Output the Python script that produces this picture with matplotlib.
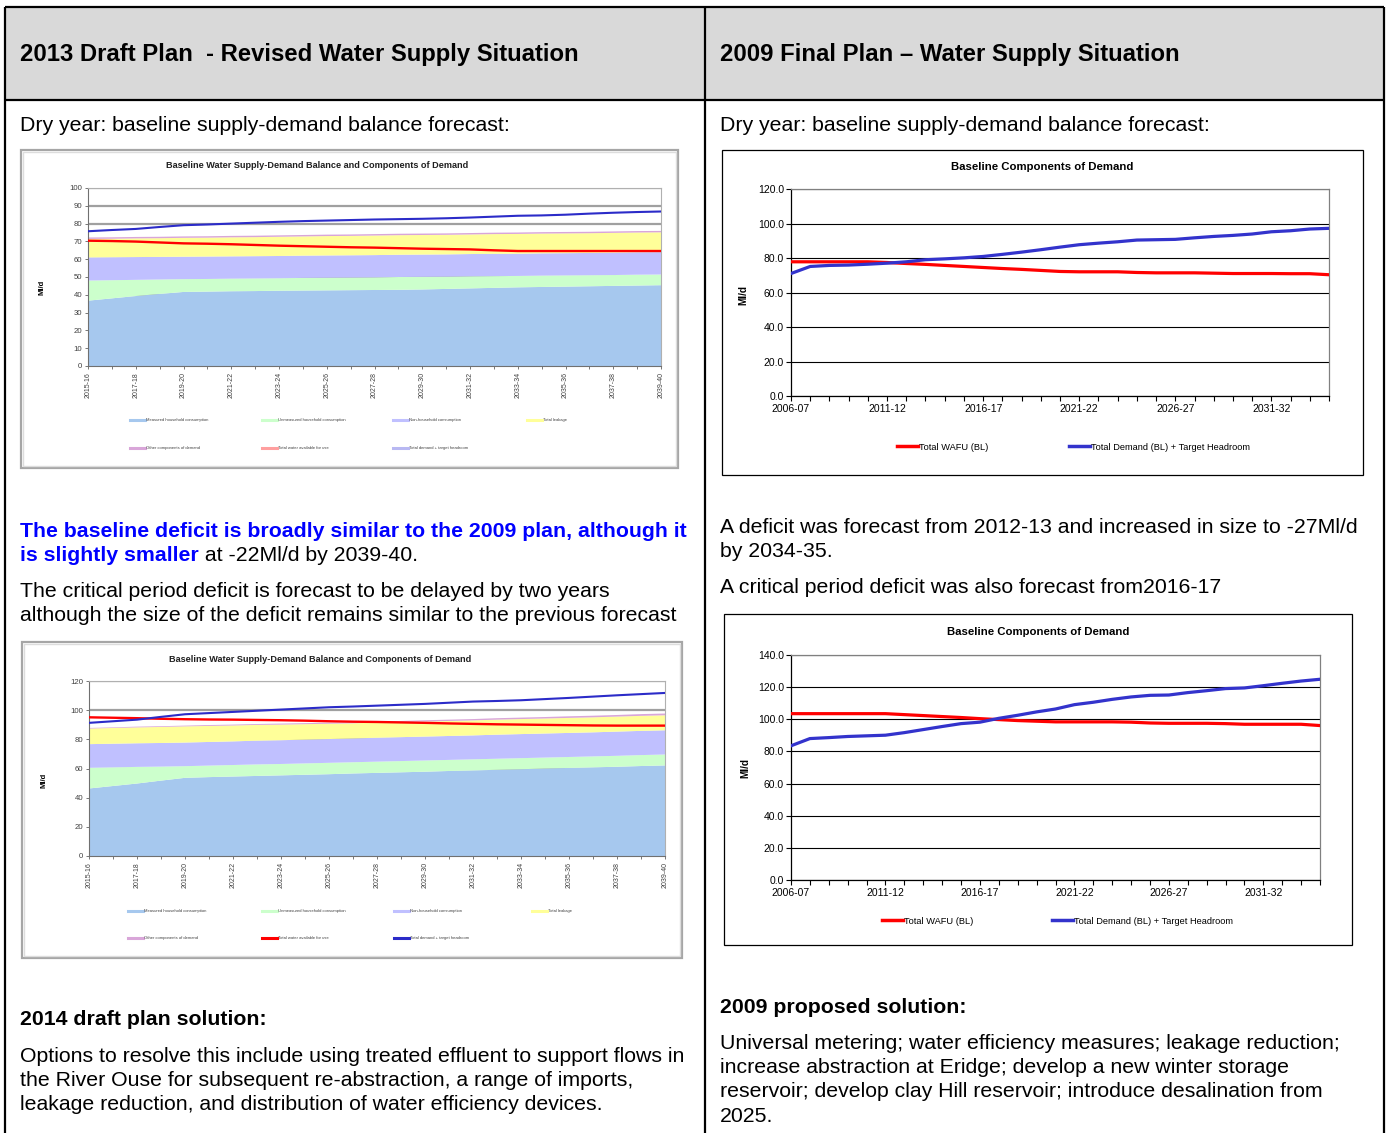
import matplotlib
matplotlib.use('Agg')
import matplotlib.pyplot as plt
from matplotlib.lines import Line2D
from matplotlib.patches import Rectangle
from matplotlib.legend import Legend
from matplotlib.ticker import MultipleLocator, FormatStrFormatter

plt.rcParams['font.family'] = ['Liberation Sans', 'DejaVu Sans']

# ---------------- DATA ----------------
years_2013 = ['2015-16', '2016-17', '2017-18', '2018-19', '2019-20', '2020-21', '2021-22', '2022-23',
              '2023-24', '2024-25', '2025-26', '2026-27', '2027-28', '2028-29', '2029-30', '2030-31',
              '2031-32', '2032-33', '2033-34', '2034-35', '2035-36', '2036-37', '2037-38', '2038-39',
              '2039-40']
years_2009 = ['2006-07', '2007-08', '2008-09', '2009-10', '2010-11', '2011-12', '2012-13', '2013-14',
              '2014-15', '2015-16', '2016-17', '2017-18', '2018-19', '2019-20', '2020-21', '2021-22',
              '2022-23', '2023-24', '2024-25', '2025-26', '2026-27', '2027-28', '2028-29', '2029-30',
              '2030-31', '2031-32', '2032-33', '2033-34', '2034-35']

component_names = ['Measured household consumption', 'Unmeasured household consumption',
                   'Non-household consumption', 'Total leakage', 'Other components of demand']
line_names_2013 = ['Total water available for use', 'Total demand + target headroom']
line_names_2009 = ['Total WAFU (BL)', 'Total Demand (BL) + Target Headroom']

# 2013 draft plan, dry year (top-left chart)
dy_measured = [36.7, 38.0, 39.3, 40.5, 41.6, 41.8, 42.0, 42.1, 42.3, 42.4, 42.5, 42.6, 42.7,
               42.8, 43.0, 43.3, 43.6, 43.9, 44.2, 44.4, 44.6, 44.8, 45.0, 45.2, 45.4]
dy_unmeasured = [11.3, 10.2, 9.1, 8.1, 7.2, 7.1, 7.1, 7.1, 7.0, 7.1, 7.1, 7.1, 7.1,
                 7.2, 7.1, 6.9, 6.8, 6.6, 6.4, 6.4, 6.3, 6.2, 6.1, 6.1, 6.0]
dy_nonhousehold = [13.0, 12.9, 12.8, 12.7, 12.6, 12.6, 12.5, 12.5, 12.5, 12.5, 12.5, 12.5, 12.5,
                   12.5, 12.5, 12.5, 12.5, 12.5, 12.5, 12.5, 12.5, 12.5, 12.6, 12.6, 12.6]
dy_leakage = [10.4, 10.4, 10.5, 10.5, 10.6, 10.6, 10.7, 10.7, 10.8, 10.8, 10.9, 10.9, 11.0,
              11.0, 11.0, 11.0, 11.0, 11.1, 11.1, 11.1, 11.1, 11.1, 11.1, 11.1, 11.1]
dy_other = [0.8] * 25
dy_wafu = [70.4, 70.2, 69.9, 69.4, 68.9, 68.7, 68.4, 68.0, 67.6, 67.3, 67.0, 66.7, 66.5,
           66.2, 65.9, 65.7, 65.5, 65.0, 64.6, 64.6, 64.6, 64.6, 64.6, 64.6, 64.6]
dy_demand = [75.7, 76.4, 77.0, 78.1, 79.1, 79.5, 80.0, 80.5, 81.0, 81.4, 81.7, 82.0, 82.3,
             82.5, 82.7, 83.0, 83.4, 83.9, 84.4, 84.6, 85.0, 85.6, 86.1, 86.5, 86.8]

# 2013 draft plan, critical period (bottom-left chart)
cp_measured = [46.3, 48.0, 49.7, 51.7, 53.6, 54.1, 54.5, 54.9, 55.3, 55.7, 56.1, 56.6, 57.0,
               57.4, 57.8, 58.3, 58.7, 59.1, 59.5, 60.0, 60.4, 60.8, 61.2, 61.7, 62.1]
cp_unmeasured = [14.2, 12.8, 11.4, 9.6, 8.0, 7.9, 7.9, 7.9, 7.8, 7.8, 7.8, 7.7, 7.7,
                 7.7, 7.7, 7.6, 7.6, 7.6, 7.6, 7.5, 7.5, 7.5, 7.5, 7.5, 7.5]
cp_nonhousehold = [16.2, 16.2, 16.2, 16.2, 16.2, 16.2, 16.2, 16.3, 16.3, 16.3, 16.3, 16.3, 16.4,
                   16.4, 16.4, 16.4, 16.4, 16.5, 16.5, 16.5, 16.5, 16.5, 16.6, 16.6, 16.6]
cp_leakage = [10.7, 10.8, 10.9, 11.0, 11.1, 11.0, 10.9, 10.8, 10.7, 10.6, 10.5, 10.4, 10.4,
              10.3, 10.3, 10.3, 10.3, 10.3, 10.3, 10.3, 10.3, 10.3, 10.3, 10.3, 10.3]
cp_other = [0.4, 0.4, 0.5, 0.5, 0.5, 0.6, 0.6, 0.6, 0.7, 0.7, 0.7, 0.8, 0.8,
            0.8, 0.9, 0.9, 0.9, 1.0, 1.0, 1.0, 1.1, 1.1, 1.1, 1.2, 1.2]
cp_wafu = [95.1, 94.8, 94.5, 94.1, 93.8, 93.6, 93.5, 93.3, 93.1, 92.8, 92.4, 92.1, 91.9,
           91.6, 91.3, 90.9, 90.6, 90.3, 90.1, 89.9, 89.7, 89.5, 89.4, 89.4, 89.4]
cp_demand = [91.3, 92.4, 93.5, 95.4, 97.2, 98.0, 98.8, 99.6, 100.4, 101.2, 102.0, 102.5, 103.1,
             103.7, 104.3, 105.1, 105.9, 106.3, 106.8, 107.6, 108.4, 109.3, 110.2, 111.0, 111.8]

# 2009 final plan, dry year (top-right chart)
fp_dy_wafu = [77.8, 77.8, 77.8, 77.8, 77.8, 77.4, 76.8, 76.3, 75.7, 75.1, 74.5, 73.9, 73.4, 72.8,
              72.2, 72.0, 72.0, 72.0, 71.6, 71.4, 71.4, 71.4, 71.2, 71.0, 71.0, 71.0, 70.9, 70.9, 70.3]
fp_dy_demand = [71.0, 75.1, 75.7, 75.9, 76.4, 77.0, 77.8, 79.0, 79.5, 80.1, 80.9, 82.1, 83.4, 84.8,
                86.3, 87.7, 88.6, 89.4, 90.4, 90.6, 90.8, 91.7, 92.5, 93.1, 93.9, 95.2, 95.8, 96.8, 97.2]

# 2009 final plan, critical period (bottom-right chart)
fp_cp_wafu = [103.5, 103.5, 103.5, 103.5, 103.5, 103.5, 102.9, 102.3, 101.7, 101.1, 100.4, 99.8,
              99.2, 98.8, 98.4, 98.4, 98.4, 98.4, 98.2, 97.7, 97.5, 97.5, 97.5, 97.3, 96.9, 96.9,
              96.9, 96.9, 96.1]
fp_cp_demand = [83.5, 88.0, 88.6, 89.3, 89.7, 90.1, 91.7, 93.6, 95.5, 97.3, 98.2, 100.6, 102.5,
                104.6, 106.4, 109.1, 110.6, 112.4, 113.9, 114.9, 115.1, 116.6, 117.8, 119.1,
                119.5, 120.9, 122.4, 123.8, 124.9]

# ---------------- FIGURE ----------------
W, H = 1388, 1133
fig = plt.figure(figsize=(W / 100, H / 100), dpi=100)


def px_axes(x0, y0, x1, y1, **kw):
    return fig.add_axes([x0 / W, 1 - y1 / H, (x1 - x0) / W, (y1 - y0) / H], **kw)


page = px_axes(0, 0, W, H)
page.set_xlim(0, W)
page.set_ylim(H, 0)
page.axis('off')

# table structure
page.add_patch(Rectangle((5, 7), 1379, 93, facecolor='#D9D9D9', edgecolor='none', zorder=0))
tbl_kw = dict(color='black', lw=1.6, solid_capstyle='butt', zorder=1)
page.plot([5, 1384], [7, 7], **tbl_kw)
page.plot([5, 1384], [100, 100], **tbl_kw)
page.plot([5, 5], [7, H], **tbl_kw)
page.plot([705, 705], [7, H], **tbl_kw)
page.plot([1384, 1384], [7, H], **tbl_kw)

HDR = 17.2
BODY = 15.3
page.text(20, 61, '2013 Draft Plan  - Revised Water Supply Situation', fontsize=HDR,
          fontweight='bold', va='baseline')
page.text(720, 61, '2009 Final Plan \u2013 Water Supply Situation', fontsize=HDR,
          fontweight='bold', va='baseline')

for x in (20, 720):
    page.text(x, 131, 'Dry year: baseline supply-demand balance forecast:', fontsize=BODY, va='baseline')

blue_txt = '#0000FF'
page.text(20, 537, 'The baseline deficit is broadly similar to the 2009 plan, although it',
          fontsize=BODY, fontweight='bold', color=blue_txt, va='baseline')
t1 = page.text(20, 561, 'is slightly smaller', fontsize=BODY, fontweight='bold',
               color=blue_txt, va='baseline')
fig.canvas.draw()
bb = t1.get_window_extent()
x_after = page.transData.inverted().transform((bb.x1, bb.y0))[0]
page.text(x_after, 561, ' at -22Ml/d by 2039-40.', fontsize=BODY, va='baseline')

page.text(20, 597, 'The critical period deficit is forecast to be delayed by two years',
          fontsize=BODY, va='baseline')
page.text(20, 621, 'although the size of the deficit remains similar to the previous forecast',
          fontsize=BODY, va='baseline')

page.text(20, 1025, '2014 draft plan solution:', fontsize=BODY, fontweight='bold', va='baseline')
for y, s in zip([1062, 1086, 1110],
                ['Options to resolve this include using treated effluent to support flows in',
                 'the River Ouse for subsequent re-abstraction, a range of imports,',
                 'leakage reduction, and distribution of water efficiency devices.']):
    page.text(20, y, s, fontsize=BODY, va='baseline')

page.text(720, 533, 'A deficit was forecast from 2012-13 and increased in size to -27Ml/d',
          fontsize=BODY, va='baseline')
page.text(720, 557, 'by 2034-35.', fontsize=BODY, va='baseline')
page.text(720, 593, 'A critical period deficit was also forecast from2016-17', fontsize=BODY,
          va='baseline')

page.text(720, 1013, '2009 proposed solution:', fontsize=BODY, fontweight='bold', va='baseline')
for y, s in zip([1049, 1073, 1097, 1122],
                ['Universal metering; water efficiency measures; leakage reduction;',
                 'increase abstraction at Eridge; develop a new winter storage',
                 'reservoir; develop clay Hill reservoir; introduce desalination from',
                 '2025.']):
    page.text(720, y, s, fontsize=BODY, va='baseline')

# ---------------- LEFT (2013) CHARTS ----------------
area_colors = ['#A6C8EE', '#CCFFCC', '#C0C0FF', '#FFFF99', '#D9A6D9']
red = '#FF0000'
navy = '#2B2BC8'


def add_legend(handle, label, lx, ly, **kw):
    lg = Legend(page, [handle], [label], loc='center left', bbox_to_anchor=(lx, ly),
                bbox_transform=page.transData, frameon=False, borderpad=0, borderaxespad=0, **kw)
    lg.set_zorder(3)
    page.add_artist(lg)


def left_chart(frame, plot, title_xy, ylab_xy, ymax, ystep, comps, wafu, demand,
               leg_rows, leg_cols, leg_line_colors, grid_lw):
    fx0, fy0, fx1, fy1 = frame
    page.add_patch(Rectangle((fx0, fy0), fx1 - fx0, fy1 - fy0, facecolor='white',
                             edgecolor='#A6A6A6', lw=1.6, zorder=2))
    page.add_patch(Rectangle((fx0 + 2, fy0 + 2), fx1 - fx0 - 4, fy1 - fy0 - 4, facecolor='none',
                             edgecolor='#DDDDDD', lw=1.0, zorder=2))
    ax = px_axes(*plot)
    x = list(range(len(years_2013)))
    ax.stackplot(x, *comps, colors=area_colors, linewidth=0, zorder=1)
    ax.plot(x, wafu, color=red, lw=1.7, zorder=3)
    ax.plot(x, demand, color=navy, lw=1.5, zorder=3)
    ax.set_xlim(0, len(x) - 1)
    ax.set_ylim(0, ymax)
    ax.set_axisbelow(True)
    ax.yaxis.set_major_locator(MultipleLocator(ystep))
    ax.yaxis.grid(True, color='#A0A0A0', lw=grid_lw)
    ax.set_xticks(x, minor=True)
    ax.set_xticks(x[::2])
    ax.set_xticklabels(years_2013[::2], rotation=90, fontsize=5, color='#404040')
    ax.tick_params(axis='y', labelsize=5.6, labelcolor='#404040', length=2.5, width=0.6,
                   color='#606060', pad=1.5)
    ax.tick_params(axis='x', which='both', length=2.5, width=0.6, color='#606060', pad=2)
    for s in ('top', 'right'):
        ax.spines[s].set_color('#B0B0B0')
        ax.spines[s].set_linewidth(0.8)
    for s in ('left', 'bottom'):
        ax.spines[s].set_color('#707070')
        ax.spines[s].set_linewidth(0.8)
    page.text(title_xy[0], title_xy[1], 'Baseline Water Supply-Demand Balance and Components of Demand',
              fontsize=6.6, fontweight='bold', ha='center', va='center', color='#202020', zorder=3)
    page.text(ylab_xy[0], ylab_xy[1], 'Ml/d', fontsize=5.5, fontweight='bold', rotation=90,
              ha='center', va='center', zorder=3)
    names = component_names + line_names_2013
    cols = area_colors + leg_line_colors
    positions = [(leg_cols[0], leg_rows[0]), (leg_cols[1], leg_rows[0]), (leg_cols[2], leg_rows[0]),
                 (leg_cols[3], leg_rows[0]), (leg_cols[0], leg_rows[1]), (leg_cols[1], leg_rows[1]),
                 (leg_cols[2], leg_rows[1])]
    for name, c, (lx, ly) in zip(names, cols, positions):
        add_legend(Line2D([], [], color=c, lw=2.2), name, lx, ly, fontsize=3, handlelength=3.6,
                   handletextpad=0.2, labelcolor='#404040')
    return ax


left_chart((21, 150, 678, 468), (88, 188, 661, 366), (317, 166), (42, 287), 100, 10,
           [dy_measured, dy_unmeasured, dy_nonhousehold, dy_leakage, dy_other], dy_wafu, dy_demand,
           (420, 448), (130, 262, 393, 527), ['#FF9F9F', '#B8B8F2'], 1.6)

left_chart((22, 642, 682, 958), (89, 681, 665, 856), (320, 659), (44, 780), 120, 20,
           [cp_measured, cp_unmeasured, cp_nonhousehold, cp_leakage, cp_other], cp_wafu, cp_demand,
           (911, 938), (128, 262, 394, 532), [red, navy], 1.6)


# ---------------- RIGHT (2009) CHARTS ----------------
def right_chart(frame, plot, title_xy, ylab_xy, ymax, wafu, demand, leg_y, leg_xs):
    fx0, fy0, fx1, fy1 = frame
    page.add_patch(Rectangle((fx0, fy0), fx1 - fx0, fy1 - fy0, facecolor='white',
                             edgecolor='black', lw=0.9, zorder=2))
    ax = px_axes(*plot)
    x = list(range(len(years_2009)))
    ax.plot(x, wafu, color=red, lw=2.3, zorder=3)
    ax.plot(x, demand, color='#3333CC', lw=2.3, zorder=3)
    ax.set_xlim(0, len(x) - 1)
    ax.set_ylim(0, ymax)
    ax.set_axisbelow(True)
    ax.yaxis.set_major_locator(MultipleLocator(20))
    ax.yaxis.set_major_formatter(FormatStrFormatter('%.1f'))
    ax.yaxis.grid(True, color='black', lw=0.8)
    ax.set_xticks(x, minor=True)
    ax.set_xticks(x[::5])
    ax.set_xticklabels(years_2009[::5], fontsize=7.5)
    ax.tick_params(axis='y', labelsize=7.5, length=3.5, width=0.8, pad=1.5)
    ax.tick_params(axis='x', which='both', length=3.5, width=0.8, pad=2)
    for s in ('top', 'right'):
        ax.spines[s].set_color('#808080')
        ax.spines[s].set_linewidth(0.9)
    for s in ('left', 'bottom'):
        ax.spines[s].set_color('black')
        ax.spines[s].set_linewidth(0.9)
    page.text(title_xy[0], title_xy[1], 'Baseline Components of Demand', fontsize=8.2,
              fontweight='bold', ha='center', va='center', zorder=3)
    page.text(ylab_xy[0], ylab_xy[1], 'Ml/d', fontsize=7.2, fontweight='bold', rotation=90,
              ha='center', va='center', zorder=3)
    for name, c, lx in zip(line_names_2009, [red, '#3333CC'], leg_xs):
        add_legend(Line2D([], [], color=c, lw=2.5), name, lx, leg_y, fontsize=6.7,
                   handlelength=2.3, handletextpad=0.05)
    return ax


right_chart((722, 150, 1363, 475), (791, 189, 1329, 396), (1042, 167), (743, 295), 120,
            fp_dy_wafu, fp_dy_demand, 447, (897, 1069))
right_chart((724, 614, 1352, 945), (791, 655, 1320, 880), (1038, 632), (745, 768), 140,
            fp_cp_wafu, fp_cp_demand, 921, (882, 1052))

fig.savefig('out.png', dpi=100)
